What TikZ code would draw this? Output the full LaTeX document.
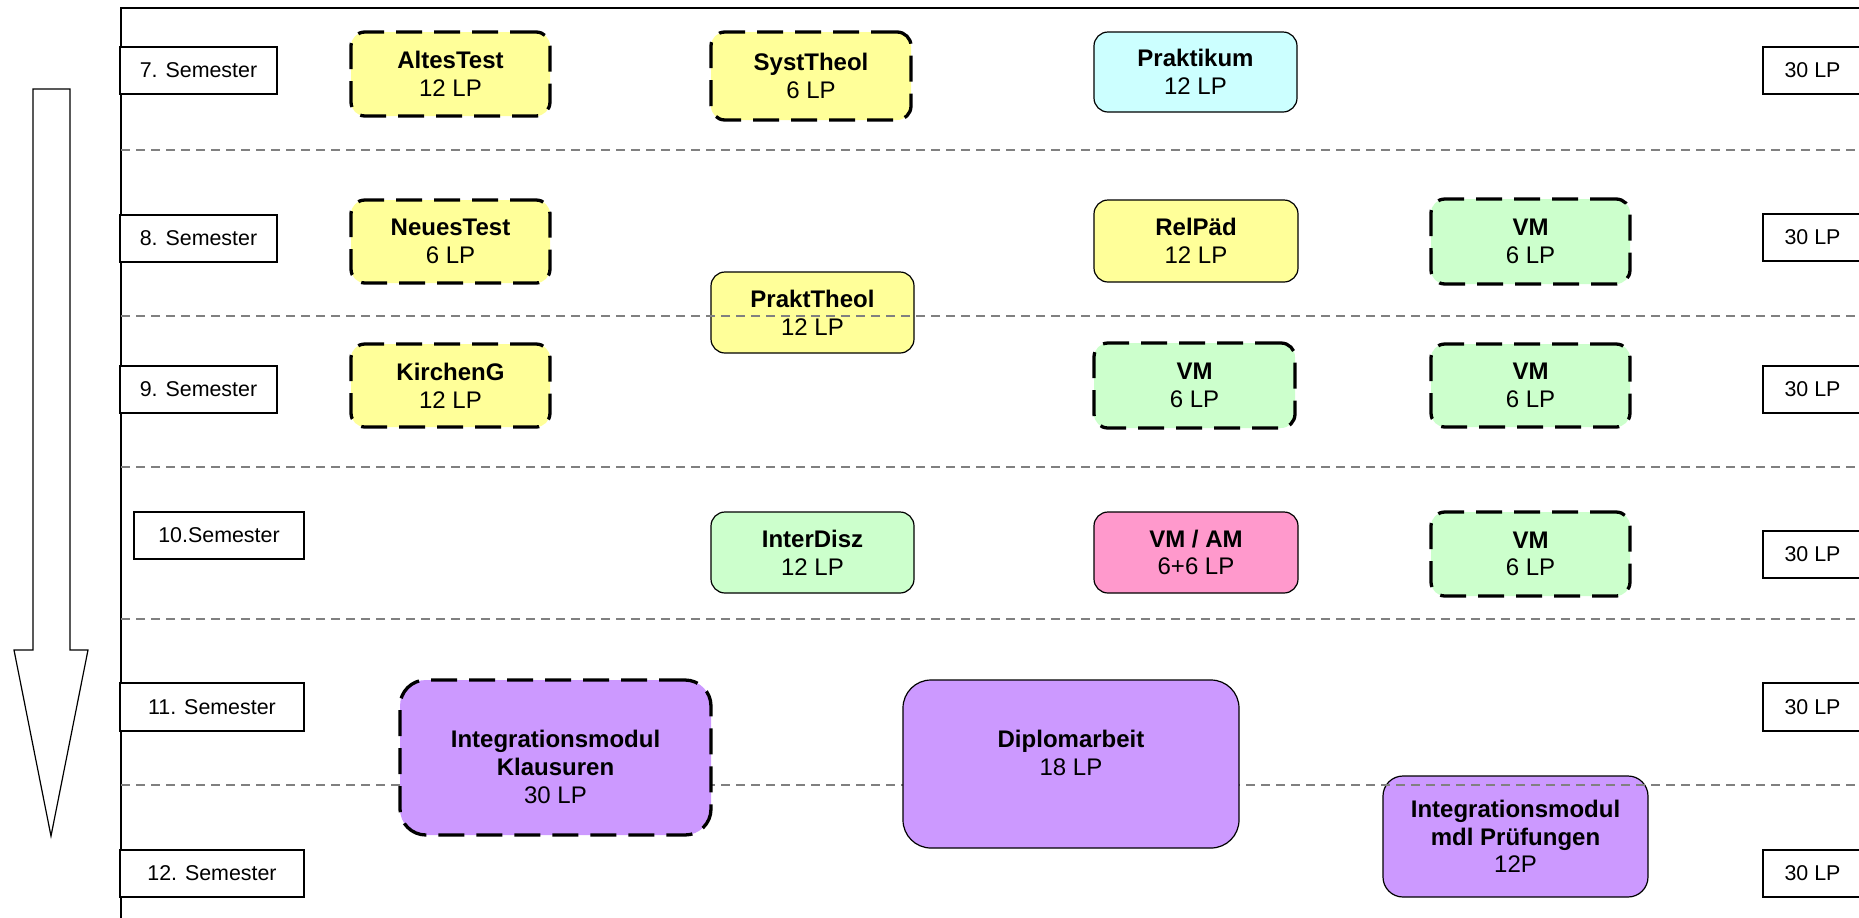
\documentclass[tikz,border=0pt]{standalone}
\usepackage{fontspec}
\setmainfont{Liberation Sans}
\definecolor{myyellow}{HTML}{FFFF99}
\definecolor{mycyan}{HTML}{CCFFFF}
\definecolor{mygreen}{HTML}{CCFFCC}
\definecolor{mypink}{HTML}{FF99CC}
\definecolor{mypurple}{HTML}{CC99FF}
\definecolor{sepgray}{HTML}{808080}
\tikzset{
  modbox/.style={draw=black, line width=0.6pt, rounded corners=7pt, align=center, inner sep=0pt,
    font=\fontsize{12}{13.8}\selectfont},
  dmodbox/.style={modbox, line width=1.65pt, dash pattern=on 13pt off 6pt},
  modtext/.style={align=center, inner sep=0pt, font=\fontsize{12}{13.8}\selectfont},
  sembox/.style={draw=black, fill=white, line width=0.75pt, inner sep=0pt,
    font=\fontsize{10.7}{12.6}\selectfont},
  sepline/.style={draw=sepgray, line width=0.9pt, dash pattern=on 4.5pt off 3pt},
  frameline/.style={draw=black, line width=1pt},
}
\newcommand\Mbox[7]{%
  \node[#2, minimum width={(#5-#3)*0.5pt}, minimum height={(#6-#4)*0.5pt}] (#1)
    at ({(#3+#5)/2},{(#4+#6)/2}) {#7};}
\begin{document}
\begin{tikzpicture}[x=0.5pt, y=-0.5pt]
\useasboundingbox (0,0) rectangle (1859,917);
\clip (0,0) rectangle (1859,917);
\fill[white] (0,0) rectangle (1859,917);

% downward arrow
\draw[line width=0.6pt, fill=white] (33,89) -- (70,89) -- (70,650) -- (88,650) -- (51,836)
  -- (14,650) -- (33,650) -- cycle;

% frame
\coordinate (fbl) at (121,920);
\coordinate (ftl) at (121,8);
\coordinate (ftr) at (1865,8);
\draw[frameline] (fbl) -- (ftl) -- (ftr);

% boxes lying under the separators
\Mbox{praktth}{modbox, fill=myyellow}{711}{272}{914}{353}{\textbf{PraktTheol}\\12 LP}
\Mbox{pruef}{modbox, fill=mypurple, rounded corners=10pt}{1383}{776}{1648}{897}{\textbf{Integrationsmodul}\\\textbf{mdl Prüfungen}\\12P}

% separators
\foreach \yy/\nm in {150/a,316/b,467/c,619/d,785/e}{
  \coordinate (sl\nm) at (121,\yy);
  \coordinate (sr\nm) at (1859,\yy);
  \draw[sepline] (sl\nm) -- (sr\nm);
}

% semester labels
\Mbox{s7}{sembox}{120}{47}{277}{94}{7. Semester}
\Mbox{s8}{sembox}{120}{215}{277}{262}{8. Semester}
\Mbox{s9}{sembox}{120}{366}{277}{413}{9. Semester}
\Mbox{s10}{sembox}{134}{512}{304}{559}{10.Semester}
\Mbox{s11}{sembox}{120}{683}{304}{731}{11. Semester}
\Mbox{s12}{sembox}{120}{850}{304}{897}{12. Semester}

% credit boxes at right
\Mbox{lp7}{sembox}{1763}{47}{1862}{94}{30 LP}
\Mbox{lp8}{sembox}{1763}{214}{1862}{261}{30 LP}
\Mbox{lp9}{sembox}{1763}{366}{1862}{413}{30 LP}
\Mbox{lp10}{sembox}{1763}{531}{1862}{578}{30 LP}
\Mbox{lp11}{sembox}{1763}{683}{1862}{731}{30 LP}
\Mbox{lp12}{sembox}{1763}{850}{1862}{897}{30 LP}

% modules
\Mbox{altes}{dmodbox, fill=myyellow}{351}{32}{550}{116}{\textbf{AltesTest}\\12 LP}
\Mbox{syst}{dmodbox, fill=myyellow}{711}{32}{911}{120}{\textbf{SystTheol}\\6 LP}
\Mbox{prakt}{modbox, fill=mycyan}{1094}{32}{1297}{112}{\textbf{Praktikum}\\12 LP}
\Mbox{neues}{dmodbox, fill=myyellow}{351}{200}{550}{283}{\textbf{NeuesTest}\\6 LP}
\Mbox{relpaed}{modbox, fill=myyellow}{1094}{200}{1298}{282}{\textbf{RelPäd}\\12 LP}
\Mbox{vmA}{dmodbox, fill=mygreen}{1431}{199}{1630}{284}{\textbf{VM}\\6 LP}
\Mbox{kirch}{dmodbox, fill=myyellow}{351}{344}{550}{427}{\textbf{KirchenG}\\12 LP}
\Mbox{vmB}{dmodbox, fill=mygreen}{1094}{343}{1295}{428}{\textbf{VM}\\6 LP}
\Mbox{vmC}{dmodbox, fill=mygreen}{1431}{344}{1630}{427}{\textbf{VM}\\6 LP}
\Mbox{inter}{modbox, fill=mygreen}{711}{512}{914}{593}{\textbf{InterDisz}\\12 LP}
\Mbox{vmam}{modbox, fill=mypink}{1094}{512}{1298}{593}{\textbf{VM / AM}\\6+6 LP}
\Mbox{vmD}{dmodbox, fill=mygreen}{1431}{512}{1630}{596}{\textbf{VM}\\6 LP}

\Mbox{klaus}{dmodbox, fill=mypurple, rounded corners=13pt}{400}{680}{711}{835}{}
\node[modtext] (klausT) at (555.5,767) {\textbf{Integrationsmodul}\\\textbf{Klausuren}\\30 LP};
\Mbox{dipl}{modbox, fill=mypurple, rounded corners=14pt}{903}{680}{1239}{848}{}
\node[modtext] (diplT) at (1071,753) {\textbf{Diplomarbeit}\\18 LP};
\end{tikzpicture}
\end{document}
